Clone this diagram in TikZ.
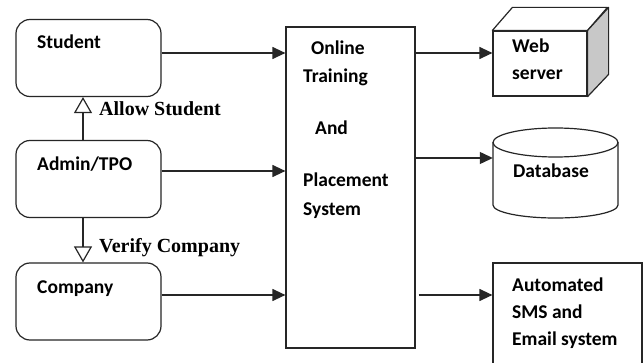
\documentclass[tikz,border=0pt]{standalone}
\usepackage{fontspec}
\usetikzlibrary{arrows.meta}
\newfontfamily\carl{Carlito}
\newfontfamily\lserif{Liberation Serif}
\definecolor{linec}{HTML}{262626}
\definecolor{sidegray}{HTML}{C8C8C8}
\begin{document}
\begin{tikzpicture}[x=1pt,y=-1pt,
  boxline/.style={draw=linec,line width=1.2pt},
  rbox/.style={boxline,rounded corners=14pt,minimum width=145pt,minimum height=77pt,inner sep=0pt},
  plainbox/.style={boxline,inner sep=0pt},
  ghost/.style={inner sep=0pt},
  sanstxt/.style={font=\carl\bfseries\fontsize{19.5}{24}\selectfont,anchor=base west,inner sep=0pt},
  seriftxt/.style={font=\lserif\bfseries\fontsize{20}{24}\selectfont,anchor=base west,inner sep=0pt},
  flow/.style={draw=linec,line width=1.2pt,-{Triangle[length=13pt,width=12pt]}},
  openarr/.style={draw=linec,line width=1.2pt,-{Triangle[open,length=16pt,width=18pt,fill=white]}}
]
\useasboundingbox (0,0) rectangle (644,363);
\fill[white] (0,0) rectangle (644,363);

% left boxes
\node[rbox] (student) at (88.5,58) {};
\node[rbox] (admin) at (88.5,179) {};
\node[rbox] (company) at (88.5,301.5) {};
\node[sanstxt] (tstudent) at (37,49) {Student};
\node[sanstxt] (tadmin) at (37,171) {Admin/TPO};
\node[sanstxt] (tcompany) at (37,293) {Company};

% centre box
\node[plainbox,minimum width=129pt,minimum height=321pt] (center) at (350.5,187.5) {};
\node[sanstxt] (t1) at (311,55) {Online};
\node[sanstxt] (t2) at (303,83) {Training};
\node[sanstxt] (t3) at (315,135) {And};
\node[sanstxt] (t4) at (303,187) {Placement};
\node[sanstxt] (t5) at (303,215) {System};

% web server (3D box)
\node[plainbox,minimum width=94pt,minimum height=65pt] (web) at (540,63.5) {};
\draw[boxline,fill=white,line join=round] (web.north west) -- ++(20,-23) -- ++(95,0) -- (web.north east) -- cycle;
\draw[boxline,fill=sidegray,line join=round] (web.north east) -- ++(21,-23) -- ++(0,67) -- (web.south east) -- cycle;
\node[sanstxt] (tweb1) at (512,53) {Web};
\node[sanstxt] (tweb2) at (512,80) {server};

% database (cylinder)
\node[ghost,minimum width=125pt,minimum height=90pt] (db) at (555.5,173) {};
\draw[boxline,fill=white] (493,142.5) -- (493,205)
  arc[start angle=180,end angle=360,x radius=62.5pt,y radius=13pt]
  -- (618,142.5);
\draw[boxline] (555.5,142.5) ellipse[x radius=62.5pt,y radius=14.5pt];
\node[sanstxt] (tdb) at (513,178) {Database};

% SMS box
\node[plainbox,minimum width=149pt,minimum height=112pt] (sms) at (567.5,319) {};
\node[sanstxt] (ts1) at (512,291) {Automated};
\node[sanstxt] (ts2) at (512,318) {SMS and};
\node[sanstxt] (ts3) at (512,345) {Email system};

% flows into centre
\draw[flow] ([yshift=5pt]student.east) -- ([yshift=5pt]student.east -| center.west);
\draw[flow] ([yshift=8pt]admin.east) -- ([yshift=8pt]admin.east -| center.west);
\draw[flow] ([yshift=6.5pt]company.east) -- ([yshift=6.5pt]company.east -| center.west);

% flows out of centre
\draw[flow] ([yshift=10.5pt]web.west -| center.east) -- ([yshift=10.5pt]web.west);
\draw[flow] ([yshift=15pt]db.west -| center.east) -- ([yshift=15pt]db.west);
\draw[flow] ([yshift=24pt,xshift=3pt]sms.west -| center.east) -- ([yshift=24pt]sms.west);

% admin relations
\draw[openarr] ([xshift=-5.5pt]admin.north) -- ([xshift=-5.5pt]student.south);
\draw[openarr] ([xshift=-5.5pt]admin.south) -- ([xshift=-5.5pt]company.north);
\node[seriftxt] (lallow) at (99,116) {Allow Student};
\node[seriftxt] (lverify) at (99,252) {Verify Company};
\end{tikzpicture}
\end{document}
